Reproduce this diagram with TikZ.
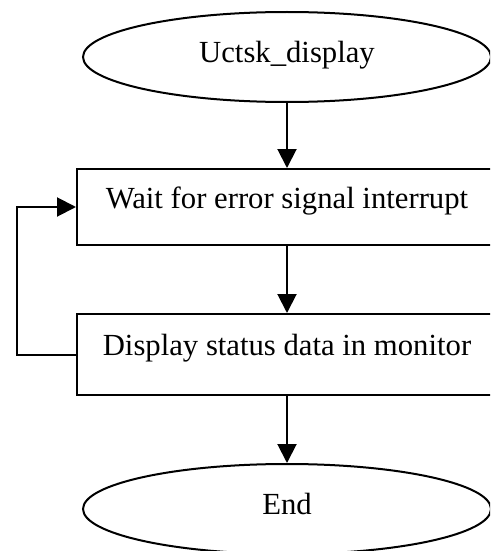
\documentclass[tikz,border=0pt]{standalone}
\usepackage{fontspec}
\setmainfont{Liberation Serif}
\usetikzlibrary{arrows.meta,shapes.geometric}
\begin{document}
\begin{tikzpicture}[x=1pt,y=-1pt,
  every node/.style={font=\fontsize{30.7}{36}\selectfont},
  terminal/.style={draw, line width=2pt, ellipse, inner sep=0pt,
    minimum width=408pt, minimum height=90pt, text height=15pt, text depth=4pt},
  process/.style={draw, line width=2pt, rectangle, inner sep=0pt,
    minimum width=420pt, text height=10pt, text depth=8pt},
  flow/.style={line width=2pt, -{Triangle[width=19pt,length=19pt]}}]
  \useasboundingbox (0,0) rectangle (490,551);
  \clip (0,0) rectangle (490,551);
  \fill[white] (0,0) rectangle (490,551);
  % flowchart nodes
  \node[terminal] (start) at (287,57) {Uctsk\_display};
  \node[process, minimum height=76pt] (wait) at (287,207) {Wait for error signal interrupt};
  \node[process, minimum height=81pt] (show) at (287,354.5) {Display status data in monitor};
  \node[terminal] (stop) at (287,509) {End};
  \coordinate (loop) at (17,280);
  % connectors
  \draw[flow] (start) -- (wait);
  \draw[flow] (wait) -- (show);
  \draw[flow] (show) -- (stop);
  \draw[flow] (show.west) -| (loop) |- (wait.west);
\end{tikzpicture}
\end{document}
